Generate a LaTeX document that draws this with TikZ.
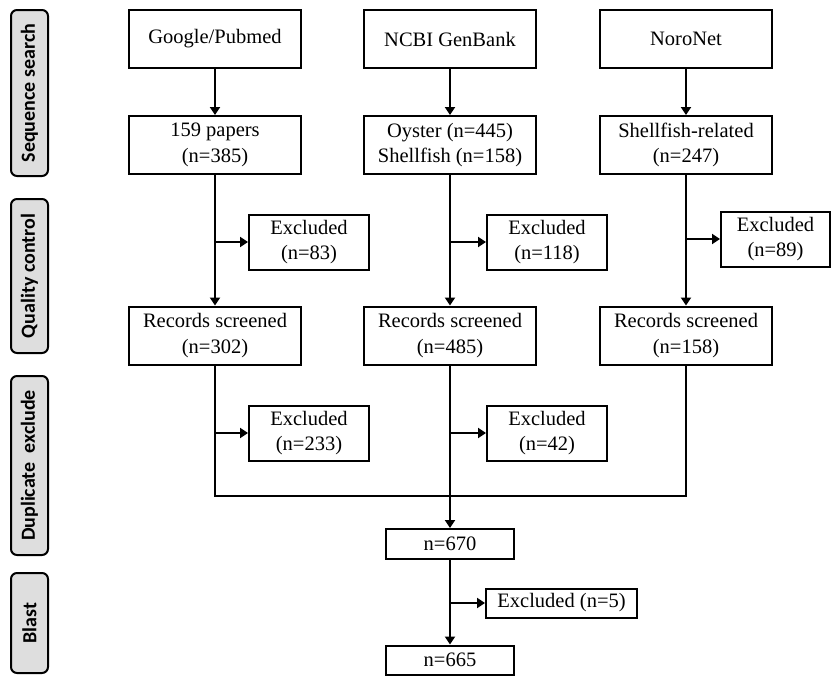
\documentclass[tikz,border=0pt]{standalone}
\usepackage{fontspec}
\setmainfont{Liberation Serif}
\newfontfamily\stagefont{Carlito}
\usetikzlibrary{arrows.meta}

\begin{document}
\begin{tikzpicture}[x=1pt, y=-1pt,
    %Option for the arrows
    >={Triangle[length=8pt,width=10pt]}, %
    line width=2pt,%
    box/.style={draw, align=center, inner sep=0pt, minimum width=172pt, minimum height=58pt,
        font=\fontsize{20.5}{25.5}\selectfont},
    exbox/.style={box, minimum width=120pt, minimum height=55pt},
    nbox/.style={box, minimum width=128pt, minimum height=30pt},
    stage/.style={draw, rounded corners=6pt, fill=black!13, inner sep=0pt,
        minimum height=37pt, minimum width=#1, rotate=90,
        font=\stagefont\bfseries\fontsize{20}{22}\selectfont},
]
    \useasboundingbox (0,0) rectangle (832,675);

    % Stages
    \node[stage=166pt] (seq)  at (29.5,93)    {Sequence search};
    \node[stage=154pt] (qual) at (29.5,276)   {Quality control};
    \node[stage=179pt] (dup)  at (29.5,465.5) {Duplicate~~exclude};
    \node[stage=100pt] (bla)  at (29.5,623)   {Blast};

    % Sources
    \node[box] (gsrc) at (215,39) {Google/Pubmed};
    \node[box] (nsrc) at (450,39) {NCBI GenBank};
    \node[box] (osrc) at (686,39) {NoroNet};

    \node[box] (gpap) at (215,145) {159 papers\\(n=385)};
    \node[box] (npap) at (450,145) {Oyster (n=445)\\Shellfish (n=158)};
    \node[box] (opap) at (686,145) {Shellfish-related\\(n=247)};

    % Quality control
    \node[exbox] (gexq) at (309,242) {Excluded\\(n=83)};
    \node[exbox] (nexq) at (547,242) {Excluded\\(n=118)};
    \node[exbox, minimum width=109pt] (oexq) at (775.5,239) {Excluded\\(n=89)};

    \node[box] (grec) at (215,335.5) {Records screened\\(n=302)};
    \node[box] (nrec) at (450,335.5) {Records screened\\(n=485)};
    \node[box] (orec) at (686,335.5) {Records screened\\(n=158)};

    % Duplicate exclude
    \node[exbox] (gexd) at (309,433) {Excluded\\(n=233)};
    \node[exbox] (nexd) at (547,433) {Excluded\\(n=42)};
    \coordinate (merge) at (450,496);

    % Blast
    \node[nbox] (n670) at (450,544) {n=670};
    \node[nbox, minimum width=151pt, minimum height=29pt] (exb) at (561.5,603) {Excluded (n=5)};
    \node[nbox, minimum height=29pt] (n665) at (450,660) {n=665};

    \draw[->] (gsrc) -- (gpap);
    \draw[->] (nsrc) -- (npap);
    \draw[->] (osrc) -- (opap);

    \draw[->] (gpap) -- (grec);
    \draw[->] (npap) -- (nrec);
    \draw[->] (opap) -- (orec);
    \draw[->] (gpap.south |- gexq) -- (gexq);
    \draw[->] (npap.south |- nexq) -- (nexq);
    \draw[->] (opap.south |- oexq) -- (oexq);

    \draw (grec.south) |- (merge);
    \draw (orec.south) |- (merge);
    \draw[->] (nrec.south) -- (n670);
    \draw[->] (grec.south |- gexd) -- (gexd);
    \draw[->] (nrec.south |- nexd) -- (nexd);

    \draw[->] (n670) -- (n665);
    \draw[->] (n670.south |- exb) -- (exb);
\end{tikzpicture}
\end{document}
